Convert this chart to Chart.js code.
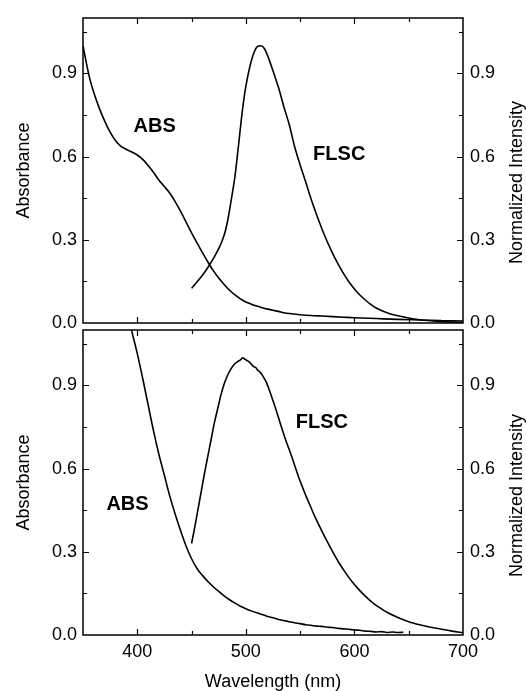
<!DOCTYPE html>
<html lang="en">
<head>
    <meta charset="UTF-8">
    <title>ABS / FLSC spectra</title>

    <!--  Chart.js  -->
    <script src="https://cdn.jsdelivr.net/npm/chart.js@4.4.1/dist/chart.umd.min.js"></script>

    <style>
        html, body { margin: 0; padding: 0; background: #fff; }
        #wrap { position: relative; width: 526px; height: 691px; }
        #wrap canvas { position: absolute; left: 0; top: 0; }
    </style>
</head>
<body>
    <div id="wrap">
        <canvas id="topChart" width="526" height="691"></canvas>
        <canvas id="bottomChart" width="526" height="691"></canvas>
    </div>

    <script>
        // ***********
        // Data (wavelength in nm, absorbance / normalized intensity)
        // ***********

        // Top panel - absorbance
        var topAbsWl  = [350, 353, 356, 360, 365, 370, 375, 380, 385, 390, 395, 400, 405, 410, 415, 420, 425, 430, 435, 440,
                         445, 450, 455, 460, 465, 470, 475, 480, 485, 490, 495, 500, 505, 510, 515, 520, 525, 530, 535, 540,
                         550, 560, 570, 580, 590, 600, 620, 640, 660, 680, 700];
        var topAbsVal = [1.00, 0.94, 0.885, 0.83, 0.775, 0.728, 0.688, 0.657, 0.637, 0.626, 0.617, 0.606, 0.590, 0.568, 0.543, 0.515, 0.492, 0.468, 0.437, 0.402,
                         0.364, 0.325, 0.289, 0.254, 0.220, 0.189, 0.162, 0.139, 0.118, 0.101, 0.087, 0.076, 0.068, 0.061, 0.055, 0.050, 0.046, 0.042, 0.037, 0.034,
                         0.030, 0.027, 0.025, 0.023, 0.021, 0.019, 0.016, 0.013, 0.011, 0.009, 0.007];

        // Top panel - fluorescence
        var topFlWl  = [450, 455, 460, 465, 470, 475, 478, 481, 484, 487, 490, 493, 496, 499, 502, 505, 508, 511, 514, 517,
                        520, 523, 526, 530, 535, 540, 545, 550, 555, 560, 565, 570, 575, 580, 585, 590, 595, 600, 605, 610,
                        615, 620, 630, 640, 650, 660, 670, 680, 690, 700];
        var topFlVal = [0.125, 0.148, 0.172, 0.200, 0.232, 0.268, 0.295, 0.330, 0.385, 0.455, 0.530, 0.632, 0.740, 0.830, 0.895, 0.945, 0.980, 0.998, 1.000, 0.990,
                        0.965, 0.932, 0.898, 0.850, 0.780, 0.715, 0.635, 0.570, 0.510, 0.448, 0.392, 0.340, 0.293, 0.250, 0.212, 0.178, 0.148, 0.123, 0.101, 0.083,
                        0.067, 0.054, 0.037, 0.026, 0.018, 0.012, 0.008, 0.005, 0.003, 0.002];

        // Bottom panel - absorbance
        var botAbsWl  = [385, 390, 395, 400, 405, 410, 415, 420, 425, 430, 435, 440, 445, 450, 455, 460, 465, 470, 475, 480,
                         485, 490, 495, 500, 505, 510, 515, 520, 525, 530, 535, 540, 545, 550, 555, 560, 565, 570, 575, 580,
                         585, 590, 595, 600, 605, 610, 615, 620, 625, 630, 635, 640, 645];
        var botAbsVal = [1.30, 1.19, 1.095, 1.015, 0.925, 0.830, 0.735, 0.650, 0.575, 0.500, 0.435, 0.375, 0.320, 0.275, 0.240, 0.215, 0.193, 0.174, 0.157, 0.141,
                         0.127, 0.115, 0.104, 0.095, 0.087, 0.080, 0.074, 0.067, 0.062, 0.056, 0.052, 0.048, 0.044, 0.041, 0.037, 0.035, 0.032, 0.031, 0.028, 0.027,
                         0.024, 0.022, 0.021, 0.018, 0.017, 0.014, 0.013, 0.011, 0.012, 0.009, 0.011, 0.009, 0.010];

        // Bottom panel - fluorescence
        var botFlWl  = [450, 453, 456, 459, 462, 465, 468, 471, 474, 477, 480, 483, 486, 489, 492, 495, 497, 499, 501, 503,
                        505, 507, 509, 511, 513, 515, 517, 519, 521, 523, 525, 528, 531, 534, 537, 540, 543, 546, 549, 552,
                        555, 558, 561, 565, 570, 575, 580, 585, 590, 595, 600, 605, 610, 615, 620, 625, 630, 640, 650, 660,
                        670, 680, 690, 700];
        var botFlVal = [0.330, 0.390, 0.455, 0.520, 0.585, 0.645, 0.705, 0.765, 0.815, 0.865, 0.905, 0.935, 0.958, 0.975, 0.985, 0.992, 1.000, 0.995, 0.990, 0.985,
                        0.977, 0.968, 0.965, 0.955, 0.948, 0.938, 0.925, 0.910, 0.890, 0.868, 0.845, 0.810, 0.772, 0.735, 0.700, 0.668, 0.635, 0.600, 0.565, 0.535,
                        0.505, 0.478, 0.450, 0.415, 0.375, 0.337, 0.300, 0.265, 0.235, 0.207, 0.182, 0.160, 0.140, 0.122, 0.107, 0.094, 0.082, 0.063, 0.048, 0.037,
                        0.028, 0.021, 0.014, 0.008];

        // Axis ticks
        var xLabels = [400, 500, 600, 700];
        var xMarks  = [400, 450, 500, 550, 600, 650];
        var yLabels = [0, 0.3, 0.6, 0.9];
        var yMarks  = [0.15, 0.3, 0.45, 0.6, 0.75, 0.9, 1.05];

        var FONT = '"Liberation Sans", Arial, Helvetica, sans-serif';
        Chart.defaults.font.family = FONT;
        Chart.defaults.font.size = 18;
        Chart.defaults.color = '#000';


        // Zip wavelength + value arrays into {x, y} points
        function toPoints(wl, val) {
            return wl.map(function (w, i) { return {x: w, y: val[i]}; });
        } // END: toPoints


        // ****************
        // Frame, inward ticks, curve labels and right axis title
        // ****************
        var frameTicks = {
            id: 'frameTicks',
            afterDatasetsDraw: function (chart, args, opts) {
                var ctx = chart.ctx, a = chart.chartArea;
                var xs = chart.scales.x, ys = chart.scales.y;
                ctx.save();
                ctx.strokeStyle = '#000';
                ctx.lineWidth = 1.5;
                ctx.strokeRect(a.left, a.top, a.right - a.left, a.bottom - a.top);

                ctx.beginPath();
                xMarks.forEach(function (t) {
                    var px = Math.round(xs.getPixelForValue(t)) + 0.5;
                    var len = (t % 100 === 0) ? 6 : 4;
                    ctx.moveTo(px, a.bottom); ctx.lineTo(px, a.bottom - len);
                    ctx.moveTo(px, a.top);    ctx.lineTo(px, a.top + len);
                });
                yMarks.forEach(function (t, i) {
                    var py = Math.round(ys.getPixelForValue(t)) + 0.5;
                    var len = (i % 2 === 1) ? 6 : 4;
                    ctx.moveTo(a.left, py);  ctx.lineTo(a.left + len, py);
                    ctx.moveTo(a.right, py); ctx.lineTo(a.right - len, py);
                });
                ctx.lineWidth = 1.2;
                ctx.stroke();

                // ABS / FLSC labels, placed in data coordinates
                ctx.fillStyle = '#000';
                ctx.font = 'bold 20px ' + FONT;
                ctx.textAlign = 'center';
                ctx.textBaseline = 'middle';
                opts.labels.forEach(function (l) {
                    ctx.fillText(l.text, xs.getPixelForValue(l.x), ys.getPixelForValue(l.y));
                });

                // Right axis title (sits a little below the panel centre)
                ctx.font = '18px ' + FONT;
                ctx.translate(517, (a.top + a.bottom) / 2 + opts.titleShift);
                ctx.rotate(-Math.PI / 2);
                ctx.fillText('Normalized Intensity', 0, 0);
                ctx.restore();
            }
        }; // END: frameTicks


        // Build one panel
        function buildPanel(canvasID, absPts, flPts, padTop, padBottom, showX, labels, titleShift) {
            var lineStyle = {borderColor: '#000', borderWidth: 1.6, pointRadius: 0, fill: false, cubicInterpolationMode: 'monotone'};

            return new Chart(document.getElementById(canvasID), {
                type: 'line',
                data: {
                    datasets: [
                        Object.assign({label: 'ABS', data: absPts, yAxisID: 'y'}, lineStyle),
                        Object.assign({label: 'FLSC', data: flPts, yAxisID: 'y2'}, lineStyle)
                    ]
                },
                options: {
                    responsive: false,
                    animation: false,
                    devicePixelRatio: 1,
                    layout: {padding: {top: padTop, bottom: padBottom, left: 0, right: 0}},
                    plugins: {
                        legend: {display: false},
                        tooltip: {enabled: false},
                        frameTicks: {labels: labels, titleShift: titleShift}
                    },
                    scales: {
                        x: {
                            type: 'linear', min: 350, max: 700, display: showX,
                            afterBuildTicks: function (s) { s.ticks = xLabels.map(function (v) { return {value: v}; }); },
                            afterFit: function (s) { s.height = showX ? 56 : 0; s.paddingLeft = 0; s.paddingRight = 0; },
                            grid: {display: false, drawTicks: false},
                            border: {display: false},
                            ticks: {padding: 6, maxRotation: 0, autoSkip: false, callback: function (v) { return String(v); }},
                            title: {display: showX, text: 'Wavelength (nm)', padding: 0, font: {lineHeight: 1}}
                        },
                        y: {
                            type: 'linear', position: 'left', min: 0, max: 1.1,
                            afterBuildTicks: function (s) { s.ticks = yLabels.map(function (v) { return {value: v}; }); },
                            afterFit: function (s) { s.width = 83; s.paddingTop = 0; s.paddingBottom = 0; },
                            grid: {display: false, drawTicks: false},
                            border: {display: false},
                            ticks: {padding: 6, callback: function (v) { return v.toFixed(1); }},
                            title: {display: true, text: 'Absorbance', padding: {top: 15, bottom: 0}, font: {lineHeight: 1}}
                        },
                        y2: {
                            type: 'linear', position: 'right', min: 0, max: 1.1,
                            afterBuildTicks: function (s) { s.ticks = yLabels.map(function (v) { return {value: v}; }); },
                            afterFit: function (s) { s.width = 63; s.paddingTop = 0; s.paddingBottom = 0; },
                            grid: {display: false, drawTicks: false},
                            border: {display: false},
                            ticks: {padding: 7, callback: function (v) { return v.toFixed(1); }}
                        }
                    }
                },
                plugins: [frameTicks]
            });
        } // END: buildPanel


        // ******************
        // CALL MAIN
        // ******************
        buildPanel('topChart', toPoints(topAbsWl, topAbsVal), toPoints(topFlWl, topFlVal), 18, 368, false,
            [{text: 'ABS', x: 416, y: 0.707}, {text: 'FLSC', x: 586, y: 0.609}], 12);

        buildPanel('bottomChart', toPoints(botAbsWl, botAbsVal), toPoints(botFlWl, botFlVal), 330, 0, true,
            [{text: 'ABS', x: 391, y: 0.472}, {text: 'FLSC', x: 570, y: 0.765}], 13);
    </script>
</body>
</html>
